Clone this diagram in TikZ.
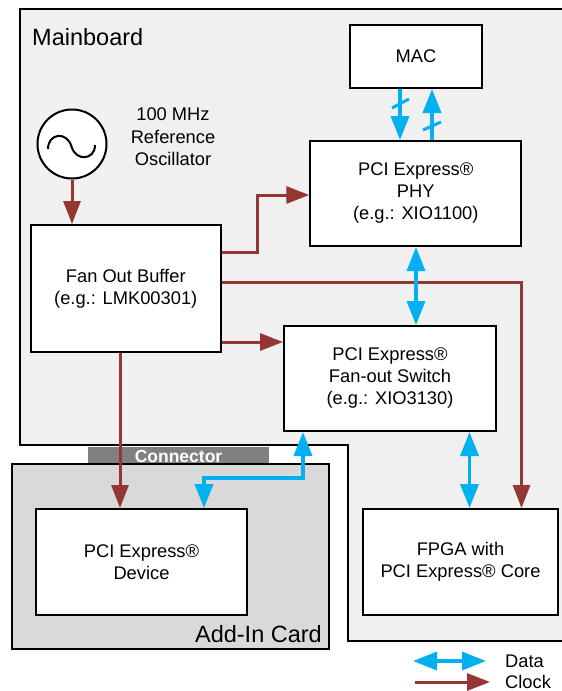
\documentclass[tikz,border=0pt]{standalone}
\usepackage{fontspec}
\setmainfont{Liberation Sans}
\usetikzlibrary{arrows.meta}
\definecolor{clockred}{HTML}{943634}
\definecolor{datablue}{HTML}{00B0F0}
\definecolor{mbfill}{HTML}{F0F0F0}
\definecolor{cardfill}{HTML}{D9D9D9}
\definecolor{connfill}{HTML}{808080}
\begin{document}
\begin{tikzpicture}[x=1pt,y=-1pt,
  blk/.style={draw=black, line width=2pt, fill=white, align=center, inner sep=0pt, font=\fontsize{18.3}{22}\selectfont},
  clk/.style={draw=clockred, line width=3pt, -{Triangle[length=23pt,width=17pt]}},
  dat/.style={draw=datablue, line width=3.5pt, -{Triangle[length=24pt,width=18pt]}},
  datb/.style={draw=datablue, line width=3.5pt, {Triangle[length=24pt,width=18pt]}-{Triangle[length=24pt,width=18pt]}},
  slash/.style={draw=datablue, line width=3pt},
  lbl/.style={font=\fontsize{18.3}{22.5}\selectfont, align=center, inner sep=0pt},
  big/.style={font=\fontsize{23.5}{28}\selectfont, inner sep=0pt}
]
\useasboundingbox (0,0) rectangle (562,691);
\fill[white] (0,0) rectangle (562,691);
% Mainboard
\draw[line width=2pt, fill=mbfill] (20,9) -- (575,9) -- (575,641) -- (348,641) -- (348,445) -- (20,445) -- cycle;
\node[big, anchor=base west] (mblabel) at (32,45) {Mainboard};
% Connector and add-in card
\fill[connfill] (88,447) rectangle (269,463);
\node[font=\bfseries\fontsize{17.5}{20}\selectfont, text=white, inner sep=0pt] (conn) at (178.5,456) {Connector};
\draw[line width=2pt, fill=cardfill] (12,464) rectangle (329,649);
\node[big, anchor=base east] (cardlabel) at (322,642) {Add-In Card};
% Blocks
\node[blk, minimum width=132pt, minimum height=63pt] (mac) at (416,56.5) {MAC};
\node[blk, minimum width=211pt, minimum height=105pt] (phy) at (415.75,193.5) {PCI Express®\\PHY\\(e.g.: XIO1100)};
\node[blk, minimum width=190pt, minimum height=127pt] (buf) at (125.75,288.5) {Fan Out Buffer\\(e.g.: LMK00301)};
\node[blk, minimum width=212pt, minimum height=105pt] (sw) at (390,378.5) {PCI Express®\\Fan-out Switch\\(e.g.: XIO3130)};
\node[blk, minimum width=211pt, minimum height=106pt] (dev) at (141.5,562) {PCI Express®\\Device};
\node[blk, minimum width=195pt, minimum height=106pt] (fpga) at (460.5,562) {FPGA with\\PCI Express® Core};
% Oscillator
\node[draw=black, circle, line width=2pt, fill=white, minimum size=69pt, inner sep=0pt] (osc) at (72,144) {};
\draw[line width=2pt] (48,149) .. controls (48,133) and (67,131) .. (71.5,146.5) .. controls (76,162) and (95,160) .. (95,145);
\node[lbl] (osclabel) at (173,137) {100 MHz\\Reference\\Oscillator};
% Clock connections
\draw[clk] (osc.south) -- (osc.south |- buf.north);
\draw[clk] (buf.east |- 0,252) -| (257,195) -- (phy.west |- 0,195);
\draw[clk] (buf.east |- 0,282) -| (fpga.north -| 521.5,0);
\draw[clk] (buf.east |- 0,342) -- (sw.west |- 0,342);
\draw[clk] (buf.south -| 120,0) -- (dev.north -| 120,0);
% Data connections
\draw[dat] (mac.south -| 400,0) -- (phy.north -| 400,0);
\draw[slash] (392,108) -- (409,99);
\draw[dat] (phy.north -| 432,0) -- (mac.south -| 432,0);
\draw[slash] (423,130) -- (441,122);
\draw[datb] (phy.south -| 416,0) -- (sw.north -| 416,0);
\draw[datb] (sw.south -| 303,0) |- (204,478) -- (dev.north -| 204,0);
\draw[datb] (sw.south -| 469.5,0) -- (fpga.north -| 469.5,0);
% Legend
\node[lbl, anchor=west] (datalbl) at (505,661) {Data};
\node[lbl, anchor=west] (clocklbl) at (505,682) {Clock};
\draw[datb] (413,661) -- ([xshift=-19pt]datalbl.west);
\draw[clk] (415,682) -- ([xshift=-15pt]clocklbl.west);
\end{tikzpicture}
\end{document}
